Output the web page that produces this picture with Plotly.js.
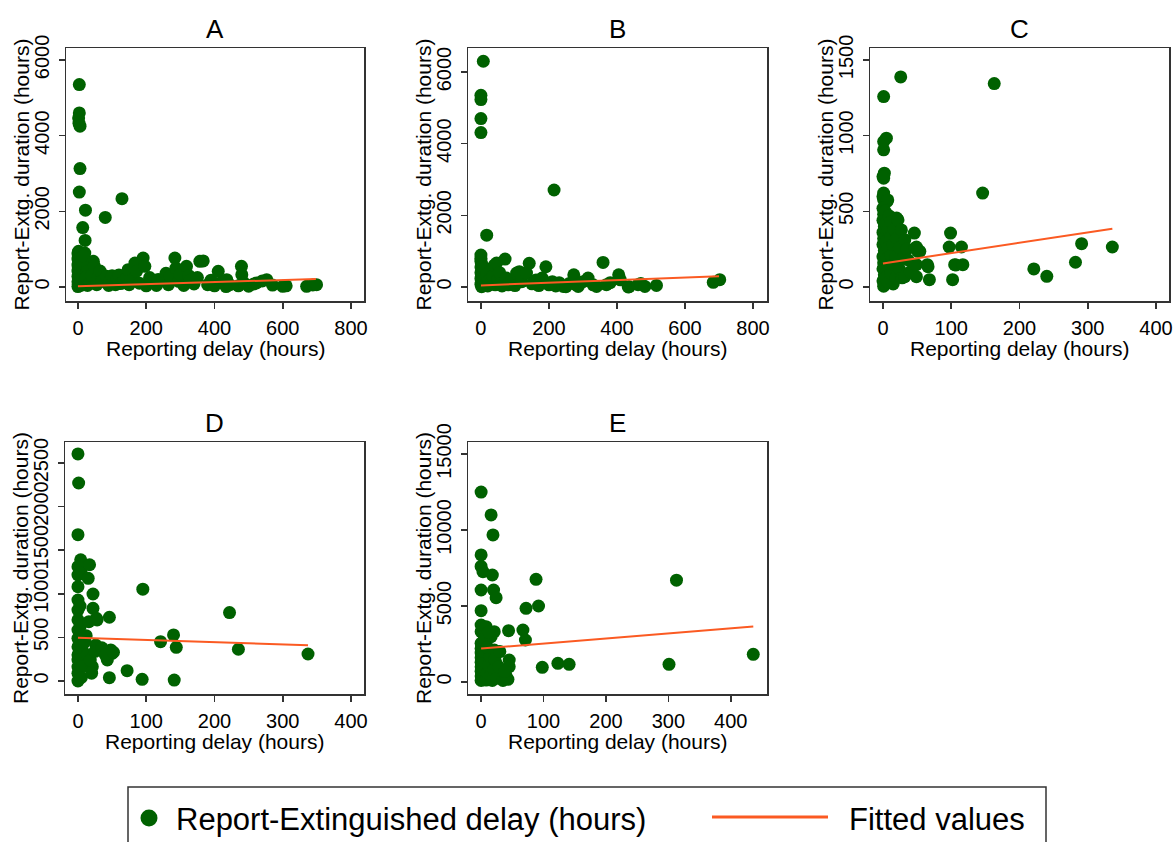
<!DOCTYPE html>
<html>
<head>
<meta charset="utf-8">
<script src="https://cdn.plot.ly/plotly-3.0.1.min.js"></script>
<style>
  html, body { margin: 0; padding: 0; background: #ffffff; }
  #chart { width: 1174px; height: 842px; }
</style>
</head>
<body>
<div id="chart"></div>
<script>
// ---- Panel A ----
const aDelay = [4,4,2,3,6,6,4,2,0,1,0,2,0,1,0,3,0,2,0,1,0,5,6,5,6,5,4,
  14,22,21,20,10,12,15,18,20,25,28,30,12,16,24,
  35,40,45,48,55,60,65,70,80,84,90,95,100,110,115,120,125,129,135,143,147,150,
  160,167,172,180,191,196,200,210,220,230,235,250,258,265,270,284,287,295,300,310,318,325,330,340,350,
  357,367,380,390,400,411,420,434,436,445,470,479,480,485,500,515,523,540,553,570,600,610,670,688,699];
const aDuration = [5350,4600,4470,4330,4250,3130,2510,943,900,820,740,660,580,500,420,350,280,210,140,70,10,40,180,320,460,600,760,
  1570,2030,1230,898,50,250,450,600,150,350,40,500,700,820,260,
  120,300,678,560,60,260,420,150,1840,282,40,180,300,60,220,320,90,2335,180,238,458,60,
  200,634,420,100,766,546,30,250,120,40,200,180,361,60,280,766,500,150,340,40,546,300,180,80,250,
  678,690,60,180,30,414,120,10,194,60,30,546,326,120,20,80,106,160,194,50,18,30,18,53,62];
const aFitDelay = [0, 697];
const aFitValue = [20, 210];

// ---- Panel B ----
const bDelay = [7,0,0,0,0,0,0,0,2,0,3,0,2,0,4,0,2,6,5,6,
  17,10,12,15,18,20,25,28,30,35,39,42,46,50,55,58,62,
  71,75,80,90,100,105,113,120,134,142,150,162,170,180,191,200,210,215,220,
  230,242,250,260,273,280,286,300,315,330,340,359,369,380,405,410,433,436,462,470,482,516,683,702];
const bDuration = [6300,5350,5230,4700,4310,893,806,720,640,560,480,400,320,240,160,80,10,60,200,340,
  1446,520,250,100,380,30,200,450,120,300,605,60,667,220,400,100,30,
  779,250,60,180,40,390,427,150,390,660,90,195,40,250,566,60,150,2707,30,
  120,18,8,100,343,60,18,150,250,60,18,686,65,120,343,200,0,8,65,100,18,46,130,204];
const bFitDelay = [0, 700];
const bFitValue = [45, 300];

// ---- Panel C ----
const cDelay = [1,5,1,1,2,1,0,1,1,0,6,7,0,1,0,2,0,1,0,2,0,1,0,2,0,1,4,4,4,4,3,
  8,8,8,8,9,12,12,12,12,15,15,15,16,20,19,19,20,22,24,24,26,
  27,28,30,32,32,35,37,40,46,47,49,51,49,49,54,65,66,68,
  97,99,102,105,107,115,117,146,163,221,240,282,291,336];
const cDuration = [1258,983,961,906,752,719,729,620,576,597,565,575,520,480,440,400,360,320,280,240,200,160,120,80,40,5,60,180,300,420,500,
  30,140,260,380,470,90,210,330,430,20,150,280,380,455,60,200,320,443,120,260,1388,
  377,60,190,311,68,250,178,100,356,256,264,235,147,68,235,147,134,48,
  264,356,48,147,145,264,147,620,1344,119,70,163,286,264];
const cFitDelay = [0, 336];
const cFitValue = [155, 385];

// ---- Panel D ----
const dDelay = [0,1,0,4,0,0,0,0,0,0,0,0,0,0,0,0,0,0,6,6,5,3,3,5,
  17,15,22,22,28,16,27,26,21,46,48,50,43,46,12,14,18,20,25,10,35,40,52,
  72,94,95,121,140,144,141,222,235,337];
const dDuration = [2604,2271,1678,1390,1311,1216,1082,929,814,700,585,490,393,300,241,160,88,0,164,393,1240,620,860,40,
  1333,1178,998,834,700,680,720,413,164,731,356,318,241,38,520,300,240,90,340,450,380,300,330,
  119,19,1053,451,528,386,11,785,364,310];
const dFitDelay = [0, 337];
const dFitValue = [495, 410];

// ---- Panel E ----
const eDelay = [0,0,0,3,0,0,0,0,0,0,0,0,0,0,0,0,0,4,4,4,4,5,
  16,19,18,20,24,8,21,16,21,24,29,8,10,12,14,10,15,18,20,22,25,28,12,
  43,44,45,45,67,71,72,88,92,98,123,141,35,40,38,30,
  301,313,436];
const eDuration = [12495,8357,7606,7259,6054,4692,3751,3310,2545,2200,1900,1600,1300,1000,700,400,100,250,800,1400,2000,2800,
  10989,9673,7040,6054,5548,3640,3310,2982,2106,1228,570,130,600,1100,1700,2300,400,100,800,1500,250,1000,3300,
  175,3377,1448,1009,3422,2764,4847,6757,5000,965,1228,1162,100,400,700,2000,
  1164,6698,1823];
const eFitDelay = [0, 436];
const eFitValue = [2200, 3650];

// ---- Text and tick labels ----
const panelTitles = ['A', 'B', 'C', 'D', 'E'];
const xTitle = 'Reporting delay (hours)';
const yTitle = 'Report-Extg. duration (hours)';
const legendLabels = ['Report-Extinguished delay (hours)', 'Fitted values'];
const xTicksWide = [0, 200, 400, 600, 800];
const xTicksNarrow = [0, 100, 200, 300, 400];
const aYTicks = [0, 2000, 4000, 6000];
const bYTicks = [0, 2000, 4000, 6000];
const cYTicks = [0, 500, 1000, 1500];
const dYTicks = [0, 500, 1000, 1500, 2000, 2500];
const eYTicks = [0, 5000, 10000, 15000];

// ---- Drawing ----
const W = 1174, H = 842;
const px = v => v / W;
const py = v => 1 - v / H;
const FONT = 'Liberation Sans, Arial, sans-serif';
const DOT = '#006100';
const FIT = '#fb5a22';
const FRAME = '#333333';

const panels = [
  { delay: aDelay, dur: aDuration, fx: aFitDelay, fy: aFitValue, box: [66, 364, 48, 301], xr: [-35, 838], yr: [-370, 6317], xt: xTicksWide, yt: aYTicks },
  { delay: bDelay, dur: bDuration, fx: bFitDelay, fy: bFitValue, box: [468, 767, 48, 301], xr: [-38, 841], yr: [-390, 6670], xt: xTicksWide, yt: bYTicks },
  { delay: cDelay, dur: cDuration, fx: cFitDelay, fy: cFitValue, box: [870, 1169, 48, 301], xr: [-19, 419], yr: [-93, 1579], xt: xTicksNarrow, yt: cYTicks },
  { delay: dDelay, dur: dDuration, fx: dFitDelay, fy: dFitValue, box: [65, 364, 442, 694], xr: [-19, 419], yr: [-149, 2741], xt: xTicksNarrow, yt: dYTicks },
  { delay: eDelay, dur: eDuration, fx: eFitDelay, fy: eFitValue, box: [468, 767, 442, 694], xr: [-21, 458], yr: [-789, 15789], xt: xTicksNarrow, yt: eYTicks }
];

const traces = [];
const layout = {
  width: W, height: H,
  margin: { l: 0, r: 0, t: 0, b: 0 },
  paper_bgcolor: '#ffffff',
  plot_bgcolor: '#ffffff',
  showlegend: false,
  font: { family: FONT, color: '#000000', size: 20 },
  annotations: [],
  shapes: []
};

panels.forEach((p, i) => {
  const n = i === 0 ? '' : String(i + 1);
  const [x0, x1, y0, y1] = p.box;
  traces.push({
    type: 'scatter', mode: 'markers', x: p.delay, y: p.dur,
    xaxis: 'x' + n, yaxis: 'y' + n,
    marker: { color: DOT, size: 13, line: { width: 0 } },
    hoverinfo: 'skip'
  });
  traces.push({
    type: 'scatter', mode: 'lines', x: p.fx, y: p.fy,
    xaxis: 'x' + n, yaxis: 'y' + n,
    line: { color: FIT, width: 2 },
    hoverinfo: 'skip'
  });
  const common = {
    showgrid: false, zeroline: false, showline: true, mirror: true,
    linecolor: FRAME, linewidth: 1.5,
    ticks: 'outside', ticklen: 6, tickwidth: 1.5, tickcolor: FRAME,
    tickfont: { family: FONT, size: 20, color: '#000000' },
    tickmode: 'array', fixedrange: true
  };
  layout['xaxis' + n] = Object.assign({}, common, {
    domain: [px(x0), px(x1)], range: p.xr, anchor: 'y' + n,
    tickvals: p.xt, ticktext: p.xt.map(String), ticklabelstandoff: 2
  });
  layout['yaxis' + n] = Object.assign({}, common, {
    domain: [py(y1), py(y0)], range: p.yr, anchor: 'x' + n,
    tickvals: p.yt, ticktext: p.yt.map(String), tickangle: -90, ticklabelstandoff: 2
  });
  const cx = (x0 + x1) / 2, cy = (y0 + y1) / 2;
  layout.annotations.push(
    { text: panelTitles[i], xref: 'paper', yref: 'paper', x: px(cx), y: py(y0 - 19),
      xanchor: 'center', yanchor: 'middle', showarrow: false, font: { family: FONT, size: 26, color: '#000000' } },
    { text: xTitle, xref: 'paper', yref: 'paper', x: px(cx), y: py(y1 + 47),
      xanchor: 'center', yanchor: 'middle', showarrow: false, borderpad: 0,
      font: { family: FONT, size: 21, color: '#000000' } },
    { text: yTitle, xref: 'paper', yref: 'paper', x: px(x0 - 45), y: py(cy), textangle: -90,
      xanchor: 'center', yanchor: 'middle', showarrow: false, borderpad: 0,
      font: { family: FONT, size: 21, color: '#000000' } }
  );
});

// Legend box with its two keys
layout.shapes.push(
  { type: 'rect', xref: 'paper', yref: 'paper', x0: px(128), x1: px(1046), y0: py(787), y1: py(880),
    line: { color: FRAME, width: 1.5 }, fillcolor: 'rgba(0,0,0,0)' },
  { type: 'circle', xref: 'paper', yref: 'paper', x0: px(140.5), x1: px(157.5), y0: py(826.5), y1: py(809.5),
    line: { width: 0 }, fillcolor: DOT },
  { type: 'line', xref: 'paper', yref: 'paper', x0: px(712), x1: px(828), y0: py(817), y1: py(817),
    line: { color: FIT, width: 3 } }
);
layout.annotations.push(
  { text: legendLabels[0], xref: 'paper', yref: 'paper', x: px(174), y: py(819),
    xanchor: 'left', yanchor: 'middle', showarrow: false, font: { family: FONT, size: 31, color: '#000000' } },
  { text: legendLabels[1], xref: 'paper', yref: 'paper', x: px(847), y: py(819),
    xanchor: 'left', yanchor: 'middle', showarrow: false, font: { family: FONT, size: 31, color: '#000000' } }
);

Plotly.newPlot('chart', traces, layout, { staticPlot: true, displayModeBar: false });
</script>
</body>
</html>
